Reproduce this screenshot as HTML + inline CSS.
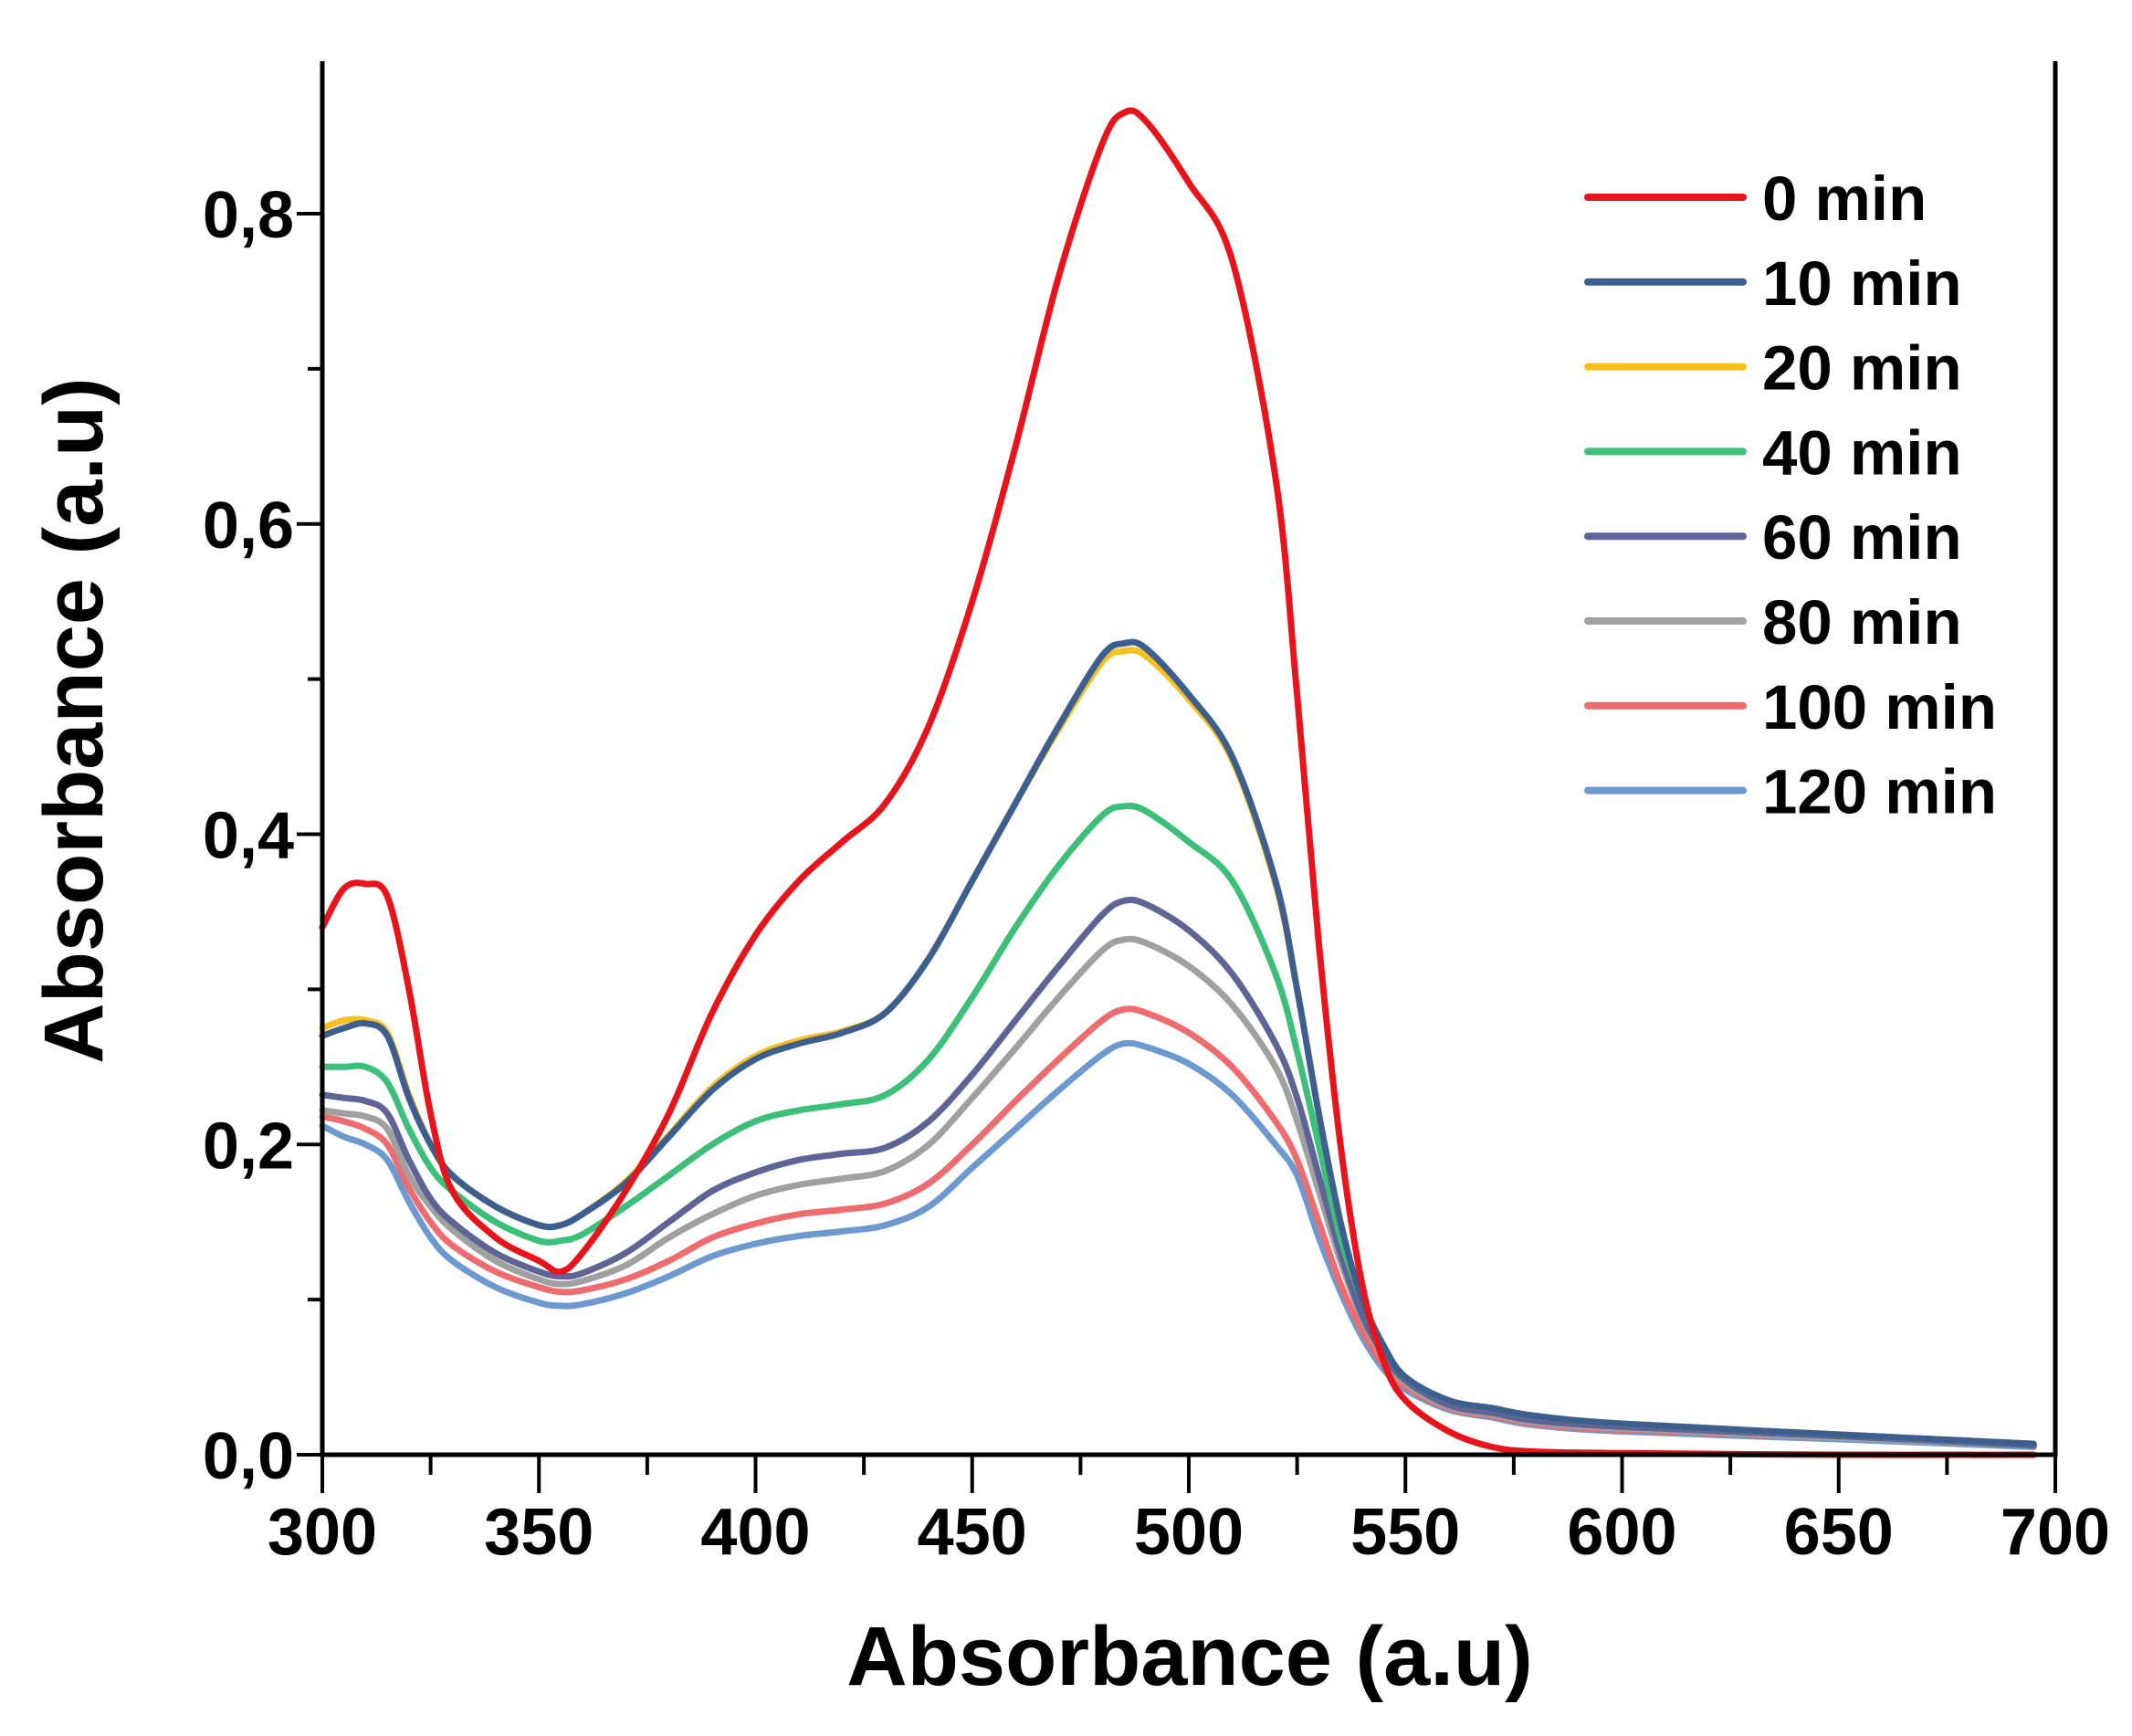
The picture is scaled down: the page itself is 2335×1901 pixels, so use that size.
<!DOCTYPE html>
<html><head><meta charset="utf-8"><style>
html,body{margin:0;padding:0;background:#fff;}
svg{display:block;font-family:"Liberation Sans",Arial,sans-serif;font-weight:bold;}
</style></head><body>
<svg id="chart" width="2335" height="1901" viewBox="0 0 2335 1901" xmlns="http://www.w3.org/2000/svg">
<g id="series"></g>
<g id="axes"></g>
<g id="legend"></g>
<text x="1303" y="1845" font-size="92" text-anchor="middle">Absorbance (a.u)</text>
<text transform="translate(112,789) rotate(-90)" font-size="92" text-anchor="middle">Absorbance (a.u)</text>
</svg>
<script>
const wavelengths=[300,305,310,315,320,325,330,340,350,355,360,370,380,390,400,410,420,430,440,450,460,470,480,485,490,500,510,520,525,530,535,540,545,550,560,570,580,600,650,695];
const s0=[0.34,0.365,0.368,0.36,0.30,0.22,0.17,0.14,0.125,0.118,0.13,0.17,0.22,0.285,0.335,0.37,0.395,0.42,0.47,0.55,0.65,0.76,0.845,0.865,0.86,0.82,0.77,0.63,0.49,0.33,0.20,0.11,0.06,0.035,0.015,0.005,0.002,0.001,0.0,0.0];
const s10=[0.27,0.275,0.278,0.27,0.23,0.20,0.18,0.16,0.148,0.148,0.155,0.175,0.205,0.235,0.255,0.265,0.272,0.285,0.32,0.37,0.42,0.47,0.515,0.523,0.52,0.49,0.45,0.37,0.30,0.22,0.15,0.10,0.07,0.05,0.035,0.03,0.025,0.02,0.013,0.007];
const s20=[0.275,0.28,0.28,0.272,0.232,0.2,0.18,0.16,0.148,0.148,0.155,0.176,0.206,0.237,0.257,0.267,0.273,0.285,0.32,0.37,0.42,0.468,0.511,0.518,0.515,0.487,0.448,0.368,0.3,0.22,0.15,0.1,0.07,0.05,0.035,0.03,0.025,0.02,0.013,0.007];
const s40=[0.25,0.25,0.25,0.24,0.21,0.185,0.17,0.15,0.138,0.138,0.142,0.16,0.18,0.2,0.215,0.222,0.226,0.232,0.255,0.295,0.34,0.38,0.412,0.418,0.415,0.395,0.37,0.31,0.26,0.2,0.14,0.1,0.07,0.05,0.035,0.03,0.025,0.02,0.013,0.007];
const s60=[0.232,0.23,0.228,0.22,0.19,0.165,0.15,0.13,0.118,0.115,0.117,0.13,0.15,0.17,0.182,0.19,0.194,0.198,0.215,0.245,0.28,0.315,0.348,0.357,0.355,0.338,0.31,0.265,0.23,0.18,0.13,0.09,0.065,0.048,0.032,0.027,0.022,0.018,0.012,0.006];
const s80=[0.222,0.22,0.218,0.21,0.18,0.16,0.145,0.125,0.113,0.11,0.112,0.122,0.14,0.155,0.167,0.174,0.178,0.183,0.2,0.23,0.262,0.295,0.325,0.332,0.33,0.315,0.29,0.25,0.215,0.17,0.125,0.088,0.062,0.046,0.031,0.026,0.021,0.017,0.011,0.006];
const s100=[0.218,0.215,0.21,0.2,0.172,0.15,0.135,0.118,0.108,0.105,0.106,0.113,0.125,0.14,0.149,0.155,0.158,0.162,0.175,0.2,0.228,0.255,0.28,0.287,0.285,0.272,0.25,0.215,0.19,0.15,0.11,0.08,0.058,0.044,0.03,0.025,0.02,0.016,0.011,0.006];
const s120=[0.212,0.205,0.2,0.19,0.163,0.14,0.125,0.108,0.098,0.096,0.097,0.104,0.115,0.128,0.136,0.141,0.144,0.148,0.16,0.185,0.21,0.235,0.258,0.265,0.263,0.252,0.232,0.2,0.18,0.14,0.105,0.076,0.055,0.042,0.029,0.024,0.019,0.015,0.01,0.005];
const seriesLabels=["0 min","10 min","20 min","40 min","60 min","80 min","100 min","120 min"];
const xTicks=[300,350,400,450,500,550,600,650,700];
const yTicks=[0,0.2,0.4,0.6,0.8];
const yTickLabels=["0,0","0,2","0,4","0,6","0,8"];

const allSeries=[s0,s10,s20,s40,s60,s80,s100,s120];
const colors=["#e8141c","#3d5f8f","#f5c020","#3cbf78","#5e6496","#a0a0a0","#ee6b70","#6c9ad0"];
const L=353,R=2251,T=67,B=1593;
const xs=v=>L+(v-300)/400*(R-L);
const ys=v=>B-v*(B-234)/0.8;
const NS="http://www.w3.org/2000/svg";
function mk(tag,attrs,parent){const e=document.createElementNS(NS,tag);for(const k in attrs)e.setAttribute(k,attrs[k]);parent.appendChild(e);return e;}
function smooth(pts){
  let d='M'+pts[0][0].toFixed(1)+','+pts[0][1].toFixed(1);
  for(let i=0;i<pts.length-1;i++){
    const p0=pts[Math.max(i-1,0)],p1=pts[i],p2=pts[i+1],p3=pts[Math.min(i+2,pts.length-1)];
    const c1x=p1[0]+(p2[0]-p0[0])/6,c1y=p1[1]+(p2[1]-p0[1])/6;
    const c2x=p2[0]-(p3[0]-p1[0])/6,c2y=p2[1]-(p3[1]-p1[1])/6;
    d+='C'+c1x.toFixed(1)+','+c1y.toFixed(1)+' '+c2x.toFixed(1)+','+c2y.toFixed(1)+' '+p2[0].toFixed(1)+','+p2[1].toFixed(1);
  }
  return d;
}
const gS=document.getElementById('series'),gA=document.getElementById('axes'),gL=document.getElementById('legend');
for(let i=allSeries.length-1;i>=0;i--){
  const pts=allSeries[i].map((v,j)=>[xs(wavelengths[j]),ys(v)]);
  const p=mk('path',{d:smooth(pts),fill:'none',stroke:colors[i],'stroke-width':7,'stroke-linejoin':'round','stroke-linecap':'round'},gS);
  
  
}
const ax=mk('path',{d:`M${L},${T}L${L},${B}L${R},${B}L${R},${T}`,fill:'none',stroke:'#000','stroke-width':5},gA);


for(let v=300;v<=700;v+=25){
  const major=(v%50===0);
  const t=mk('line',{x1:xs(v),x2:xs(v),y1:B,y2:B+(major?42:22),stroke:'#000','stroke-width':4},gA);
  
  
}
xTicks.forEach(v=>{
  const t=mk('text',{x:xs(v),y:1702,'font-size':72,'text-anchor':'middle'},gA);
  t.textContent=v;
  
  
});
for(let k=0;k<=8;k++){
  const v=k*0.1,major=(k%2===0);
  const t=mk('line',{x1:L,x2:L-(major?28:16),y1:ys(v),y2:ys(v),stroke:'#000','stroke-width':4},gA);
  
  
}
yTicks.forEach((v,i)=>{
  const t=mk('text',{x:322,y:ys(v)+26,'font-size':72,'text-anchor':'end'},gA);
  t.textContent=yTickLabels[i];
  
  
});
seriesLabels.forEach((lab,i)=>{
  const y=216+i*92.8;
  const ln=mk('line',{x1:1739,x2:1909,y1:y,y2:y,stroke:colors[i],'stroke-width':8,'stroke-linecap':'round'},gL);
  
  
  const t=mk('text',{x:1930,y:y+25,'font-size':69},gL);
  t.textContent=lab;
  
  
});
</script>
</body></html>
